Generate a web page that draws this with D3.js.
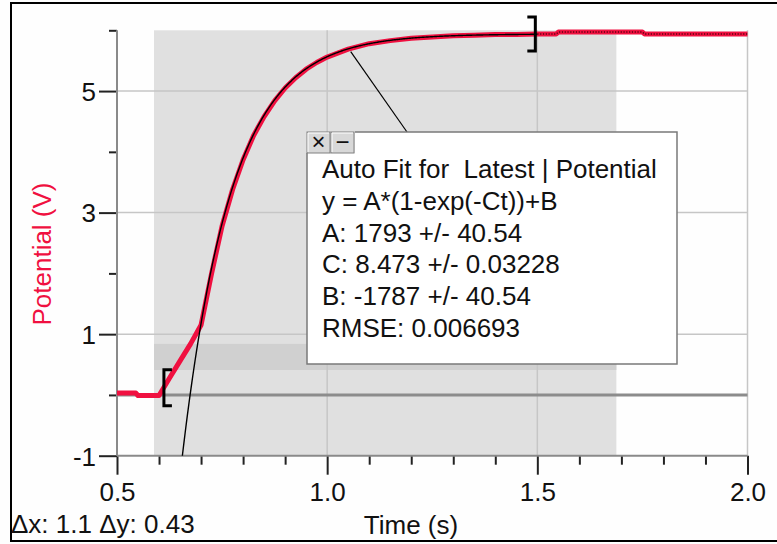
<!DOCTYPE html>
<html><head><meta charset="utf-8">
<script src="https://cdn.jsdelivr.net/npm/d3@7"></script>
<style>
html,body{margin:0;padding:0;background:#fff;}
svg{display:block;}
text{font-family:"Liberation Sans",Arial,sans-serif;}
</style></head>
<body>
<script>
// ---- data ----
const timeValues = [0.50,0.545,0.55,0.60,0.625,0.65,0.675,0.70,0.725,0.75,0.775,0.80,0.825,0.85,0.875,0.90,0.925,0.95,0.975,1.00,1.05,1.10,1.15,1.20,1.25,1.30,1.35,1.40,1.45,1.50,1.545,1.55,1.75,1.755,2.00];
const potentialValues = [0.03,0.03,-0.01,-0.01,0.28,0.56,0.84,1.15,2.00,2.78,3.38,3.87,4.27,4.58,4.84,5.05,5.22,5.36,5.47,5.56,5.69,5.78,5.83,5.87,5.89,5.91,5.92,5.93,5.93,5.94,5.94,5.97,5.97,5.94,5.94];
const xMajorTicks = [0.5,1.0,1.5,2.0];
const xMinorTicks = [0.6,0.7,0.8,0.9,1.1,1.2,1.3,1.4,1.6,1.7,1.8,1.9];
const yMajorTicks = [-1,1,3,5];
const yMinorTicks = [0,2,4,6];
const fitParams = {A:1793, C:8.473, B:-1787.06};
const fitRange = [0.614, 1.5];
const selectionX = [0.588, 1.688];
const selectionY = [0.41, 0.84];
const fitLines = ["Auto Fit for  Latest | Potential","y = A*(1-exp(-Ct))+B","A: 1793 +/- 40.54","C: 8.473 +/- 0.03228","B: -1787 +/- 40.54","RMSE: 0.006693"];
const statsText = "\u0394x: 1.1 \u0394y: 0.43";

const W=777,H=544;
const red="#f01040";
const FS=26;
const svg=d3.select("body").append("svg").attr("width",W).attr("height",H);
svg.append("rect").attr("width",W).attr("height",H).attr("fill","#fefefe");
// outer frame
svg.append("path").attr("d",`M778,3H11V541H778`).attr("fill","none").attr("stroke","#000").attr("stroke-width",2);

const x=d3.scaleLinear().domain([0.5,2.0]).range([117,747.5]);
const y=d3.scaleLinear().domain([-1,6]).range([455.7,30.3]);

svg.append("clipPath").attr("id","clip").append("rect")
  .attr("x",x(0.5)-3).attr("y",y(6)-4).attr("width",x(2.0)-x(0.5)+6).attr("height",y(-1)-y(6)+4);

// selection shading
svg.append("rect").attr("x",x(selectionX[0])).attr("y",y(6)).attr("width",x(selectionX[1])-x(selectionX[0])).attr("height",y(-1)-y(6)).attr("fill","#e0e0e0");
svg.append("rect").attr("x",x(selectionX[0])).attr("y",y(selectionY[1])).attr("width",x(selectionX[1])-x(selectionX[0])).attr("height",y(selectionY[0])-y(selectionY[1])).attr("fill","#d0d0d0");

// grid
const g=svg.append("g");
g.selectAll(".hg").data([1,3,5]).join("line").attr("x1",x(0.5)).attr("x2",x(2.0)).attr("y1",d=>y(d)).attr("y2",d=>y(d)).attr("stroke","#c6c6c6").attr("stroke-width",1.5);
g.selectAll(".vg").data([1.0,1.5,2.0]).join("line").attr("x1",d=>x(d)).attr("x2",d=>x(d)).attr("y1",y(6)).attr("y2",y(-1)).attr("stroke","#c6c6c6").attr("stroke-width",1.5);
// zero line
g.append("line").attr("x1",x(0.5)).attr("x2",x(2.0)).attr("y1",y(0)).attr("y2",y(0)).attr("stroke","#8c8c8c").attr("stroke-width",3);

// axes
const yAxis=d3.axisLeft(y).tickValues(yMajorTicks).tickSize(18).tickFormat(d=>String(d));
const ya=svg.append("g").attr("transform",`translate(${x(0.5)},0)`).call(yAxis);
ya.select(".domain").remove();
ya.selectAll(".tick line").attr("stroke","#222").attr("stroke-width",2);
ya.selectAll(".tick text").attr("font-size",FS).attr("fill","#111").attr("x",-21).attr("dy","0.36em").attr("font-family","Liberation Sans, Arial, sans-serif");
const yAxisMinor=d3.axisLeft(y).tickValues(yMinorTicks).tickSize(8).tickFormat("");
const ym=svg.append("g").attr("transform",`translate(${x(0.5)},0)`).call(yAxisMinor);
ym.select(".domain").remove();
ym.selectAll(".tick line").attr("stroke","#222").attr("stroke-width",2);

const xAxis=d3.axisBottom(x).tickValues(xMajorTicks).tickSize(19).tickFormat(d=>d.toFixed(1));
const xa=svg.append("g").attr("transform",`translate(0,${y(-1)})`).call(xAxis);
xa.select(".domain").remove();
xa.selectAll(".tick line").attr("stroke","#222").attr("stroke-width",2);
xa.selectAll(".tick text").attr("font-size",FS).attr("fill","#111").attr("y",27).attr("dy","0.71em").attr("font-family","Liberation Sans, Arial, sans-serif");
const xAxisMinor=d3.axisBottom(x).tickValues(xMinorTicks).tickSize(9).tickFormat("");
const xm=svg.append("g").attr("transform",`translate(0,${y(-1)})`).call(xAxisMinor);
xm.select(".domain").remove();
xm.selectAll(".tick line").attr("stroke","#222").attr("stroke-width",2);

// axis lines
svg.append("line").attr("x1",x(0.5)).attr("x2",x(0.5)).attr("y1",y(6)).attr("y2",y(-1)).attr("stroke","#8a8a8a").attr("stroke-width",2);
svg.append("line").attr("x1",x(0.5)).attr("x2",x(2.0)).attr("y1",y(-1)).attr("y2",y(-1)).attr("stroke","#8a8a8a").attr("stroke-width",2);

// data
const data=timeValues.map((t,i)=>({t,v:potentialValues[i]}));
const line=d3.line().x(d=>x(d.t)).y(d=>y(d.v));
const plot=svg.append("g").attr("clip-path","url(#clip)");
plot.append("path").datum(data).attr("d",line).attr("fill","none").attr("stroke",red).attr("stroke-width",5).attr("stroke-linejoin","round");
plot.append("path").datum(data.filter(d=>d.t>=fitRange[1])).attr("d",line).attr("fill","none").attr("stroke","#5a0010").attr("stroke-width",1.5).attr("stroke-dasharray","1.2,1.6");

// fit curve
const fitT=d3.range(fitRange[0],fitRange[1]+1e-9,0.002);
const fitData=fitT.map(t=>({t,v:fitParams.A*(1-Math.exp(-fitParams.C*t))+fitParams.B})).filter(d=>d.v>-1.3);
plot.append("path").datum(fitData).attr("d",line).attr("fill","none").attr("stroke","#000").attr("stroke-width",1.4);

// brackets
const bl=x(fitRange[0])-1, by=y(0.12);
svg.append("path").attr("d",`M${bl+8},${by-18}H${bl}V${by+18}H${bl+8}`).attr("fill","none").attr("stroke","#000").attr("stroke-width",3);
const br=x(fitRange[1])-2, bry=y(5.94);
svg.append("path").attr("d",`M${br-8},${bry-17}H${br}V${bry+17}H${br-8}`).attr("fill","none").attr("stroke","#000").attr("stroke-width",3);

// leader line
svg.append("line").attr("x1",x(1.056)).attr("y1",y(5.65)).attr("x2",407).attr("y2",132).attr("stroke","#000").attr("stroke-width",1.2);

// annotation box
const bx0=307,by0=132,bx1=677,by1=364;
svg.append("rect").attr("x",bx0).attr("y",by0+21).attr("width",bx1-bx0).attr("height",by1-by0-21).attr("fill","#fff");
svg.append("rect").attr("x",355).attr("y",by0).attr("width",bx1-355).attr("height",22).attr("fill","#fff");
svg.append("path").attr("d",`M355,${by0}H${bx1}V${by1}H${bx0}V${by0+21}`).attr("fill","none").attr("stroke","#7a7a7a").attr("stroke-width",1.5);
// buttons
[[bx0,"\u00d7"],[bx0+24,"\u2212"]].forEach(([bx,s])=>{
  svg.append("rect").attr("x",bx).attr("y",by0).attr("width",23).attr("height",21).attr("fill","#d8d8d8").attr("stroke","#808080").attr("stroke-width",1);
  svg.append("path").attr("d",`M${bx+1},${by0+20}V${by0+1}H${bx+22}`).attr("fill","none").attr("stroke","#fff").attr("stroke-width",1);
  svg.append("text").attr("x",bx+11.5).attr("y",by0+18).attr("text-anchor","middle").attr("font-size",24).attr("fill","#111").text(s);
});
svg.append("g").selectAll("text").data(fitLines).join("text")
  .attr("x",322).attr("y",(d,i)=>178+i*31.8).attr("font-size",FS).attr("fill","#111").attr("xml:space","preserve").style("white-space","pre").text(d=>d);

// labels
svg.append("text").attr("transform",`translate(51,254) rotate(-90)`).attr("text-anchor","middle").attr("font-size",FS).attr("fill",red).text("Potential (V)");
svg.append("text").attr("x",411).attr("y",534).attr("text-anchor","middle").attr("font-size",FS).attr("fill","#111").text("Time (s)");
svg.append("text").attr("x",11).attr("y",533).attr("font-size",FS).attr("fill","#111").text(statsText);
</script>
</body></html>
